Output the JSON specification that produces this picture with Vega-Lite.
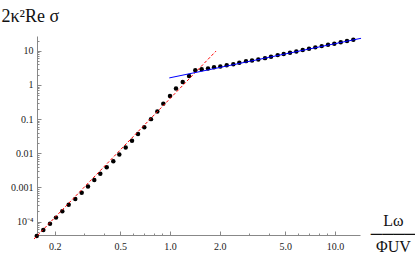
{
  "$schema": "https://vega.github.io/schema/vega-lite/v6.json",
  "width": 323,
  "height": 199,
  "autosize": {"type": "none"},
  "padding": {"left": 37, "top": 36, "right": 55, "bottom": 28},
  "background": "white",
  "config": {"view": {"stroke": null}, "font": "Liberation Serif"},
  "encoding": {
    "x": {
      "field": "x", "type": "quantitative",
      "scale": {"type": "log", "domain": [0.1563, 14.17], "nice": false},
      "axis": {
        "orient": "bottom",
        "values": [0.2, 0.3, 0.4, 0.5, 0.6, 0.7, 0.8, 0.9, 1, 2, 3, 4, 5, 6, 7, 8, 9, 10],
        "labelExpr": "indexof([0.2,0.5,1,2,5,10], datum.value) >= 0 ? format(datum.value, '.1f') : ''",
        "labelOverlap": false,
        "labelFlush": false,
        "grid": false,
        "domainColor": "#888888",
        "tickColor": "#888888",
        "tickSize": {"condition": {"test": "indexof([0.2,0.5,1,2,5,10], datum.value) >= 0", "value": -4}, "value": -2},
        "labelFont": "Liberation Serif",
        "labelFontSize": 10,
        "labelColor": "#222222",
        "labelPadding": 10,
        "title": ["Lω", "────", "ΦUV"],
        "titleFont": "Liberation Serif",
        "titleFontSize": 16,
        "titleFontWeight": "normal",
        "titleColor": "#111111",
        "titleLineHeight": 13,
        "titleAlign": "center",
        "titleBaseline": "middle",
        "titleX": 356,
        "titleY": -15,
        "titleAngle": 0
      }
    },
    "y": {
      "field": "y", "type": "quantitative",
      "scale": {"type": "log", "domain": [4.06e-5, 27.1], "nice": false},
      "axis": {
        "orient": "left",
        "values": [5e-5, 6e-5, 7e-5, 8e-5, 9e-5, 0.0001, 0.0002, 0.0003, 0.0004, 0.0005, 0.0006, 0.0007, 0.0008, 0.0009, 0.001, 0.002, 0.003, 0.004, 0.005, 0.006, 0.007, 0.008, 0.009, 0.01, 0.02, 0.03, 0.04, 0.05, 0.06, 0.07, 0.08, 0.09, 0.1, 0.2, 0.3, 0.4, 0.5, 0.6, 0.7, 0.8, 0.9, 1, 2, 3, 4, 5, 6, 7, 8, 9, 10, 20],
        "labelExpr": "datum.value == 0.0001 ? '10⁻⁴' : (indexof([0.001,0.01,0.1,1,10], datum.value) >= 0 ? format(datum.value, '~g') : '')",
        "labelOverlap": false,
        "labelFlush": false,
        "grid": false,
        "domainColor": "#888888",
        "tickColor": "#888888",
        "tickSize": {"condition": {"test": "indexof([0.0001,0.001,0.01,0.1,1,10], datum.value) >= 0", "value": -4}, "value": -2},
        "labelFont": "Liberation Serif",
        "labelFontSize": 10,
        "labelColor": "#222222",
        "labelPadding": 8,
        "title": "2κ²Re σ",
        "titleFont": "Liberation Serif",
        "titleFontSize": 18,
        "titleFontWeight": "normal",
        "titleColor": "#111111",
        "titleAngle": 0,
        "titleAlign": "left",
        "titleBaseline": "alphabetic",
        "titleX": -36,
        "titleY": -15
      }
    }
  },
  "layer": [
    {
      "data": {"values": [
        {"x": 0.1557, "y": 3.8e-5}, {"x": 0.1707, "y": 5.7e-5}, {"x": 0.1874, "y": 8.7e-5}, {"x": 0.2038, "y": 1.31e-4},
        {"x": 0.2225, "y": 2.02e-4}, {"x": 0.2432, "y": 3.1e-4}, {"x": 0.2667, "y": 4.56e-4}, {"x": 0.2916, "y": 6.98e-4},
        {"x": 0.3184, "y": 1.07e-3}, {"x": 0.3477, "y": 1.65e-3}, {"x": 0.3781, "y": 2.53e-3}, {"x": 0.4134, "y": 3.88e-3},
        {"x": 0.4533, "y": 5.82e-3}, {"x": 0.493, "y": 9.16e-3}, {"x": 0.5389, "y": 0.0147}, {"x": 0.5885, "y": 0.0232},
        {"x": 0.6399, "y": 0.0367}, {"x": 0.6985, "y": 0.0582}, {"x": 0.767, "y": 0.1}, {"x": 0.8375, "y": 0.168},
        {"x": 0.9108, "y": 0.284}, {"x": 1.0, "y": 0.475}, {"x": 1.087, "y": 0.784}, {"x": 1.194, "y": 1.225},
        {"x": 1.304, "y": 1.84}, {"x": 1.423, "y": 2.71}, {"x": 1.556, "y": 2.9}, {"x": 1.699, "y": 3.03},
        {"x": 1.848, "y": 3.32}, {"x": 2.018, "y": 3.48}, {"x": 2.206, "y": 3.8}, {"x": 2.419, "y": 4.06},
        {"x": 2.63, "y": 4.44}, {"x": 2.888, "y": 4.98}, {"x": 3.141, "y": 5.22}, {"x": 3.429, "y": 5.59},
        {"x": 3.765, "y": 6.1}, {"x": 4.094, "y": 6.66}, {"x": 4.494, "y": 7.47}, {"x": 4.888, "y": 8.0},
        {"x": 5.337, "y": 8.74}, {"x": 5.829, "y": 9.6}, {"x": 6.373, "y": 10.5}, {"x": 6.958, "y": 11.5},
        {"x": 7.597, "y": 12.6}, {"x": 8.307, "y": 13.7}, {"x": 9.071, "y": 15.0}, {"x": 9.903, "y": 16.1},
        {"x": 10.83, "y": 17.7}, {"x": 11.82, "y": 19.3}, {"x": 12.91, "y": 21.1}
      ]},
      "mark": {"type": "circle", "size": 20, "color": "#000000", "opacity": 1}
    },
    {
      "data": {"values": [{"x": 0.15, "y": 3.1e-5}, {"x": 1.9, "y": 9.8}]},
      "mark": {"type": "line", "color": "#ff0000", "strokeWidth": 1, "strokeDash": [3, 2]}
    },
    {
      "data": {"values": [{"x": 0.99, "y": 1.607}, {"x": 14.38, "y": 23.2}]},
      "mark": {"type": "line", "color": "#0000ff", "strokeWidth": 1}
    }
  ]
}
